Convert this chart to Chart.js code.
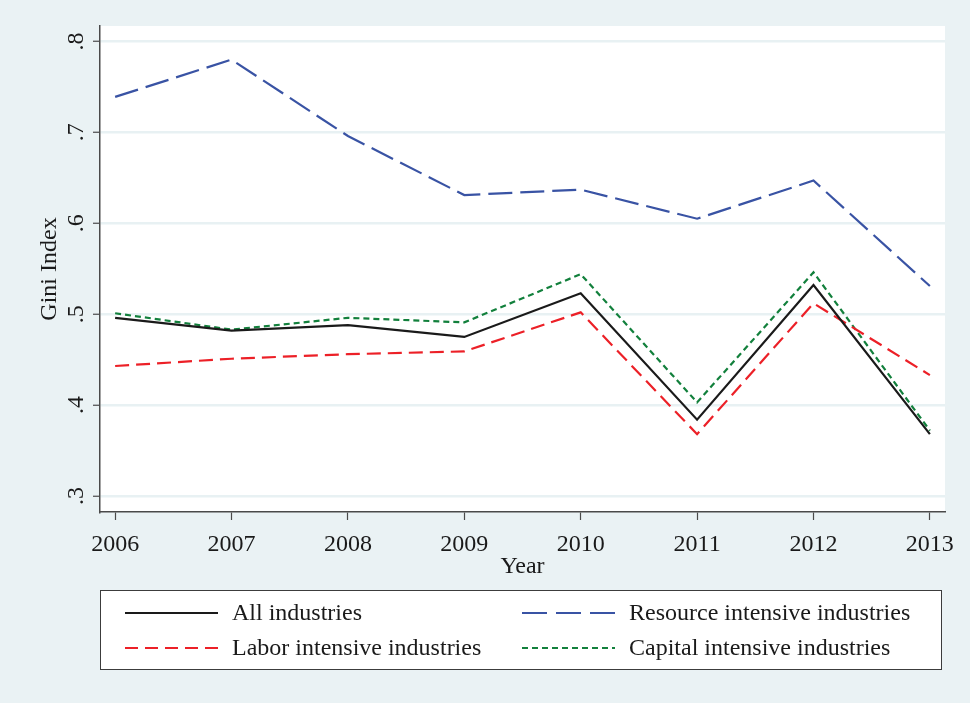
<!DOCTYPE html>
<html>
<head>
<meta charset="utf-8">
<script src="https://cdn.jsdelivr.net/npm/chart.js@4.4.1/dist/chart.umd.min.js"></script>
<style>
  html, body { margin: 0; padding: 0; background: #eaf2f4; }
  #wrap { width: 970px; height: 703px; position: relative; }
</style>
</head>
<body>
<div id="wrap"><canvas id="giniChart"></canvas></div>
<script>
const years = [2006, 2007, 2008, 2009, 2010, 2011, 2012, 2013];
const yTicks = [0.3, 0.4, 0.5, 0.6, 0.7, 0.8];

const allIndustries = [0.496, 0.482, 0.488, 0.475, 0.523, 0.384, 0.532, 0.368];
const resourceIntensive = [0.739, 0.780, 0.696, 0.631, 0.637, 0.605, 0.647, 0.531];
const laborIntensive = [0.443, 0.451, 0.456, 0.459, 0.502, 0.368, 0.512, 0.433];
const capitalIntensive = [0.501, 0.483, 0.496, 0.491, 0.544, 0.403, 0.546, 0.372];

const serif = "'Liberation Serif', 'DejaVu Serif', serif";
const axisColor = '#4a4a4a';

function toPoints(values) {
    return values.map((v, i) => ({ x: years[i], y: v }));
}

// white plot region like Stata
const plotBg = {
    id: 'plotBg',
    beforeDraw(chart) {
        const { ctx, chartArea } = chart;
        ctx.save();
        ctx.fillStyle = '#ffffff';
        ctx.fillRect(chartArea.left, chartArea.top, chartArea.right - chartArea.left, chartArea.bottom - chartArea.top);
        ctx.restore();
    }
};

// boxed two-column legend under the axis
const boxLegend = {
    id: 'boxLegend',
    afterDraw(chart) {
        const { ctx } = chart;
        const box = { x: 100.5, y: 590.5, w: 841, h: 79 };
        ctx.save();
        ctx.fillStyle = '#ffffff';
        ctx.fillRect(box.x, box.y, box.w, box.h);
        ctx.strokeStyle = '#3c3c3c';
        ctx.lineWidth = 1;
        ctx.strokeRect(box.x, box.y, box.w, box.h);

        const cols = [125, 522];
        const rows = [613, 648];
        ctx.font = '24px ' + serif;
        ctx.textBaseline = 'middle';
        ctx.textAlign = 'left';
        chart.data.datasets.forEach((ds, i) => {
            const cx = cols[i % 2];
            const cy = rows[Math.floor(i / 2)];
            ctx.beginPath();
            ctx.setLineDash(ds.legendDash || ds.borderDash || []);
            ctx.strokeStyle = ds.borderColor;
            ctx.lineWidth = ds.borderWidth;
            ctx.moveTo(cx, cy);
            ctx.lineTo(cx + 93, cy);
            ctx.stroke();
            ctx.setLineDash([]);
            ctx.fillStyle = '#1a1a1a';
            ctx.fillText(ds.label, cx + 107, cy + 1);
        });
        ctx.restore();
    }
};

new Chart(document.getElementById('giniChart'), {
    type: 'line',
    data: {
        datasets: [
            {
                label: 'All industries',
                data: toPoints(allIndustries),
                borderColor: '#1a1a1a',
                borderWidth: 2.2,
                borderDash: []
            },
            {
                label: 'Resource intensive industries',
                data: toPoints(resourceIntensive),
                borderColor: '#3953a4',
                borderWidth: 2.2,
                borderDash: [24, 8],
                legendDash: [25, 9]
            },
            {
                label: 'Labor intensive industries',
                data: toPoints(laborIntensive),
                borderColor: '#ec2027',
                borderWidth: 2.2,
                borderDash: [14, 7],
                legendDash: [13, 7]
            },
            {
                label: 'Capital intensive industries',
                data: toPoints(capitalIntensive),
                borderColor: '#12803c',
                borderWidth: 2.2,
                borderDash: [6, 4]
            }
        ]
    },
    options: {
        responsive: true,
        maintainAspectRatio: false,
        animation: false,
        elements: {
            point: { radius: 0, hoverRadius: 0 },
            line: { tension: 0, fill: false }
        },
        layout: {
            padding: { left: 0, right: 25, top: 26, bottom: 122 }
        },
        plugins: {
            legend: { display: false },
            tooltip: { enabled: false }
        },
        scales: {
            x: {
                type: 'linear',
                min: 2005.87,
                max: 2013.13,
                afterBuildTicks: (scale) => {
                    scale.ticks = years.map(v => ({ value: v }));
                },
                afterFit: (scale) => { scale.height = 69; },
                border: { display: true, color: axisColor, width: 1.5 },
                grid: {
                    drawOnChartArea: false,
                    drawTicks: true,
                    tickLength: 8,
                    tickColor: axisColor,
                    tickWidth: 1.2
                },
                ticks: {
                    autoSkip: false,
                    maxRotation: 0,
                    padding: 10,
                    color: '#1a1a1a',
                    font: { family: serif, size: 24 },
                    callback: (v) => String(v)
                },
                title: {
                    display: true,
                    text: 'Year',
                    color: '#1a1a1a',
                    font: { family: serif, size: 24 },
                    padding: { top: 0, bottom: 0 }
                }
            },
            y: {
                type: 'linear',
                min: 0.2824,
                max: 0.817,
                afterBuildTicks: (scale) => {
                    scale.ticks = yTicks.map(v => ({ value: v }));
                },
                afterFit: (scale) => { scale.width = 100; },
                border: { display: true, color: axisColor, width: 1.5 },
                grid: {
                    color: '#e8f1f3',
                    lineWidth: 2.5,
                    drawTicks: true,
                    tickLength: 7,
                    tickColor: axisColor,
                    tickWidth: 1.2
                },
                ticks: {
                    autoSkip: false,
                    minRotation: 90,
                    maxRotation: 90,
                    crossAlign: 'center',
                    padding: 7,
                    color: '#1a1a1a',
                    font: { family: serif, size: 24 },
                    callback: (v) => '.' + Math.round(v * 10)
                },
                title: {
                    display: true,
                    text: 'Gini Index',
                    color: '#1a1a1a',
                    font: { family: serif, size: 24 },
                    padding: { top: 35, bottom: 0 }
                }
            }
        }
    },
    plugins: [plotBg, boxLegend]
});
</script>
</body>
</html>
